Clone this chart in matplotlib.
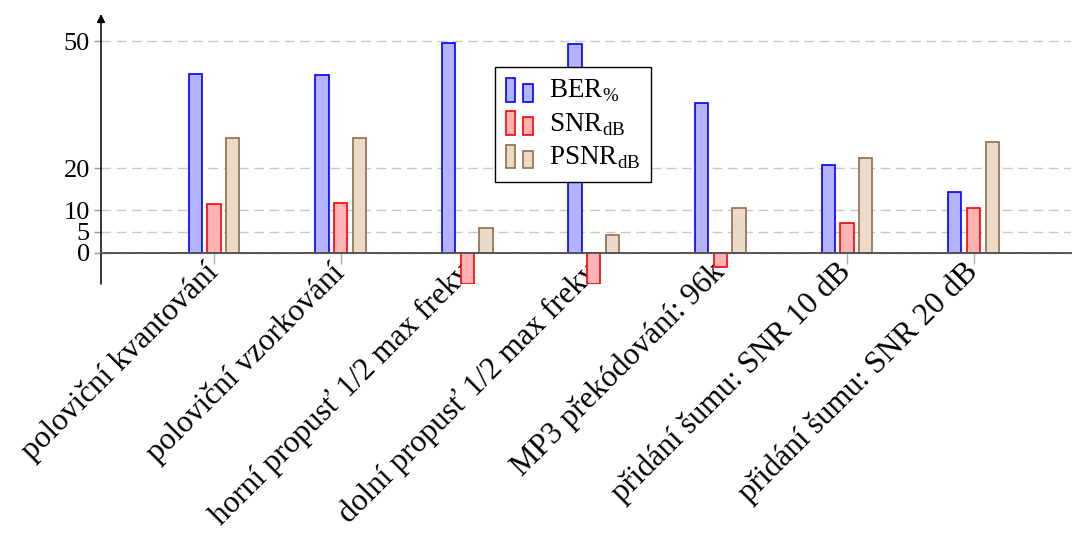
import matplotlib
matplotlib.use('Agg')
import matplotlib.pyplot as plt
import numpy as np
from matplotlib.legend_handler import HandlerBase
from matplotlib.patches import Rectangle

plt.rcParams['font.family'] = ['Liberation Serif', 'DejaVu Serif']
plt.rcParams['mathtext.fontset'] = 'custom'
plt.rcParams['mathtext.rm'] = 'Liberation Serif'

# data
categories = ['poloviční kvantování', 'poloviční vzorkování',
              'horní propusť 1/2 max frekv', 'dolní propusť 1/2 max frekv',
              'MP3 překódování: 96k', 'přidání šumu: SNR 10 dB',
              'přidání šumu: SNR 20 dB']
ber = [42.3, 42.0, 49.7, 49.4, 35.5, 20.7, 14.4]
snr = [11.6, 11.7, -7.4, -7.4, -3.4, 7.0, 10.6]
psnr = [27.1, 27.1, 5.9, 4.1, 10.7, 22.5, 26.1]
yticks = [0, 5, 10, 20, 50]

series = [
    (ber, r'BER$_{\%}$', '#b3b3ff', '#0000ff'),
    (snr, r'SNR$_{\mathrm{dB}}$', '#ffb3b3', '#ff0000'),
    (psnr, r'PSNR$_{\mathrm{dB}}$', '#ecd9c6', '#8f6d4c'),
]


class BarPair(HandlerBase):
    # pgfplots-like legend image: two small bars
    def create_artists(self, legend, orig, xd, yd, width, height, fontsize, trans):
        fc = orig.get_facecolor()
        ec = orig.get_edgecolor()
        w = width * 0.36
        r1 = Rectangle((-xd, -yd - 0.15 * height), w, height * 1.15,
                       facecolor=fc, edgecolor=ec, lw=1.2, transform=trans)
        r2 = Rectangle((-xd + width * 0.64, -yd - 0.15 * height), w, height * 0.85,
                       facecolor=fc, edgecolor=ec, lw=1.2, transform=trans)
        return [r1, r2]


fig = plt.figure(figsize=(10.77, 5.4), dpi=100)
ax = fig.add_axes([101 / 1077, 1 - 284 / 540, 970 / 1077, 270 / 540])

x = np.arange(len(categories))
off = 0.148
bw = 0.105
handles = []
for i, (vals, lab, fc, ec) in enumerate(series):
    b = ax.bar(x + (i - 1) * off, vals, bw, color=fc, edgecolor=ec, lw=1.2,
               label=lab, zorder=3)
    handles.append(b.patches[0])

ax.set_xlim(-0.893, 6.77)
ax.set_ylim(-7.4, 56.5)

for s in ['top', 'right']:
    ax.spines[s].set_visible(False)
ax.spines['bottom'].set_position(('data', 0))
ax.spines['bottom'].set_color('#555555')
ax.spines['bottom'].set_linewidth(1.4)
ax.spines['bottom'].set_zorder(4)
ax.spines['left'].set_visible(False)
ax.annotate('', xy=(0, 1.0), xytext=(0, 0), xycoords='axes fraction',
            arrowprops=dict(arrowstyle='-|>', color='black', lw=1.1,
                            mutation_scale=12, shrinkA=0, shrinkB=0))

# ticks after the spine move, which resets them
ax.set_yticks(yticks)
ax.set_xticks(x)
ax.set_xticklabels(categories, rotation=45, ha='right', va='center',
                   rotation_mode='anchor', fontsize=22.5)
ax.tick_params(axis='y', labelsize=19, length=5, color='#999999', width=1, pad=3)
ax.tick_params(axis='x', length=8, color='#aaaaaa', width=1, pad=3)

ax.yaxis.grid(True, color='#c8c8c8', linestyle=(0, (7, 4)), lw=1, zorder=0)
ax.xaxis.grid(False)

leg = ax.legend(handles=handles, labels=[s[1] for s in series],
                handler_map={h: BarPair() for h in handles},
                loc='upper left', bbox_to_anchor=(0.406, 0.804), borderaxespad=0,
                fontsize=19.5, fancybox=False, framealpha=1, edgecolor='black',
                handlelength=1.0, handleheight=0.8, handletextpad=0.6,
                labelspacing=0.25, borderpad=0.4)
leg.get_frame().set_linewidth(1.0)
leg.set_zorder(5)

fig.savefig('out.png', dpi=100)
